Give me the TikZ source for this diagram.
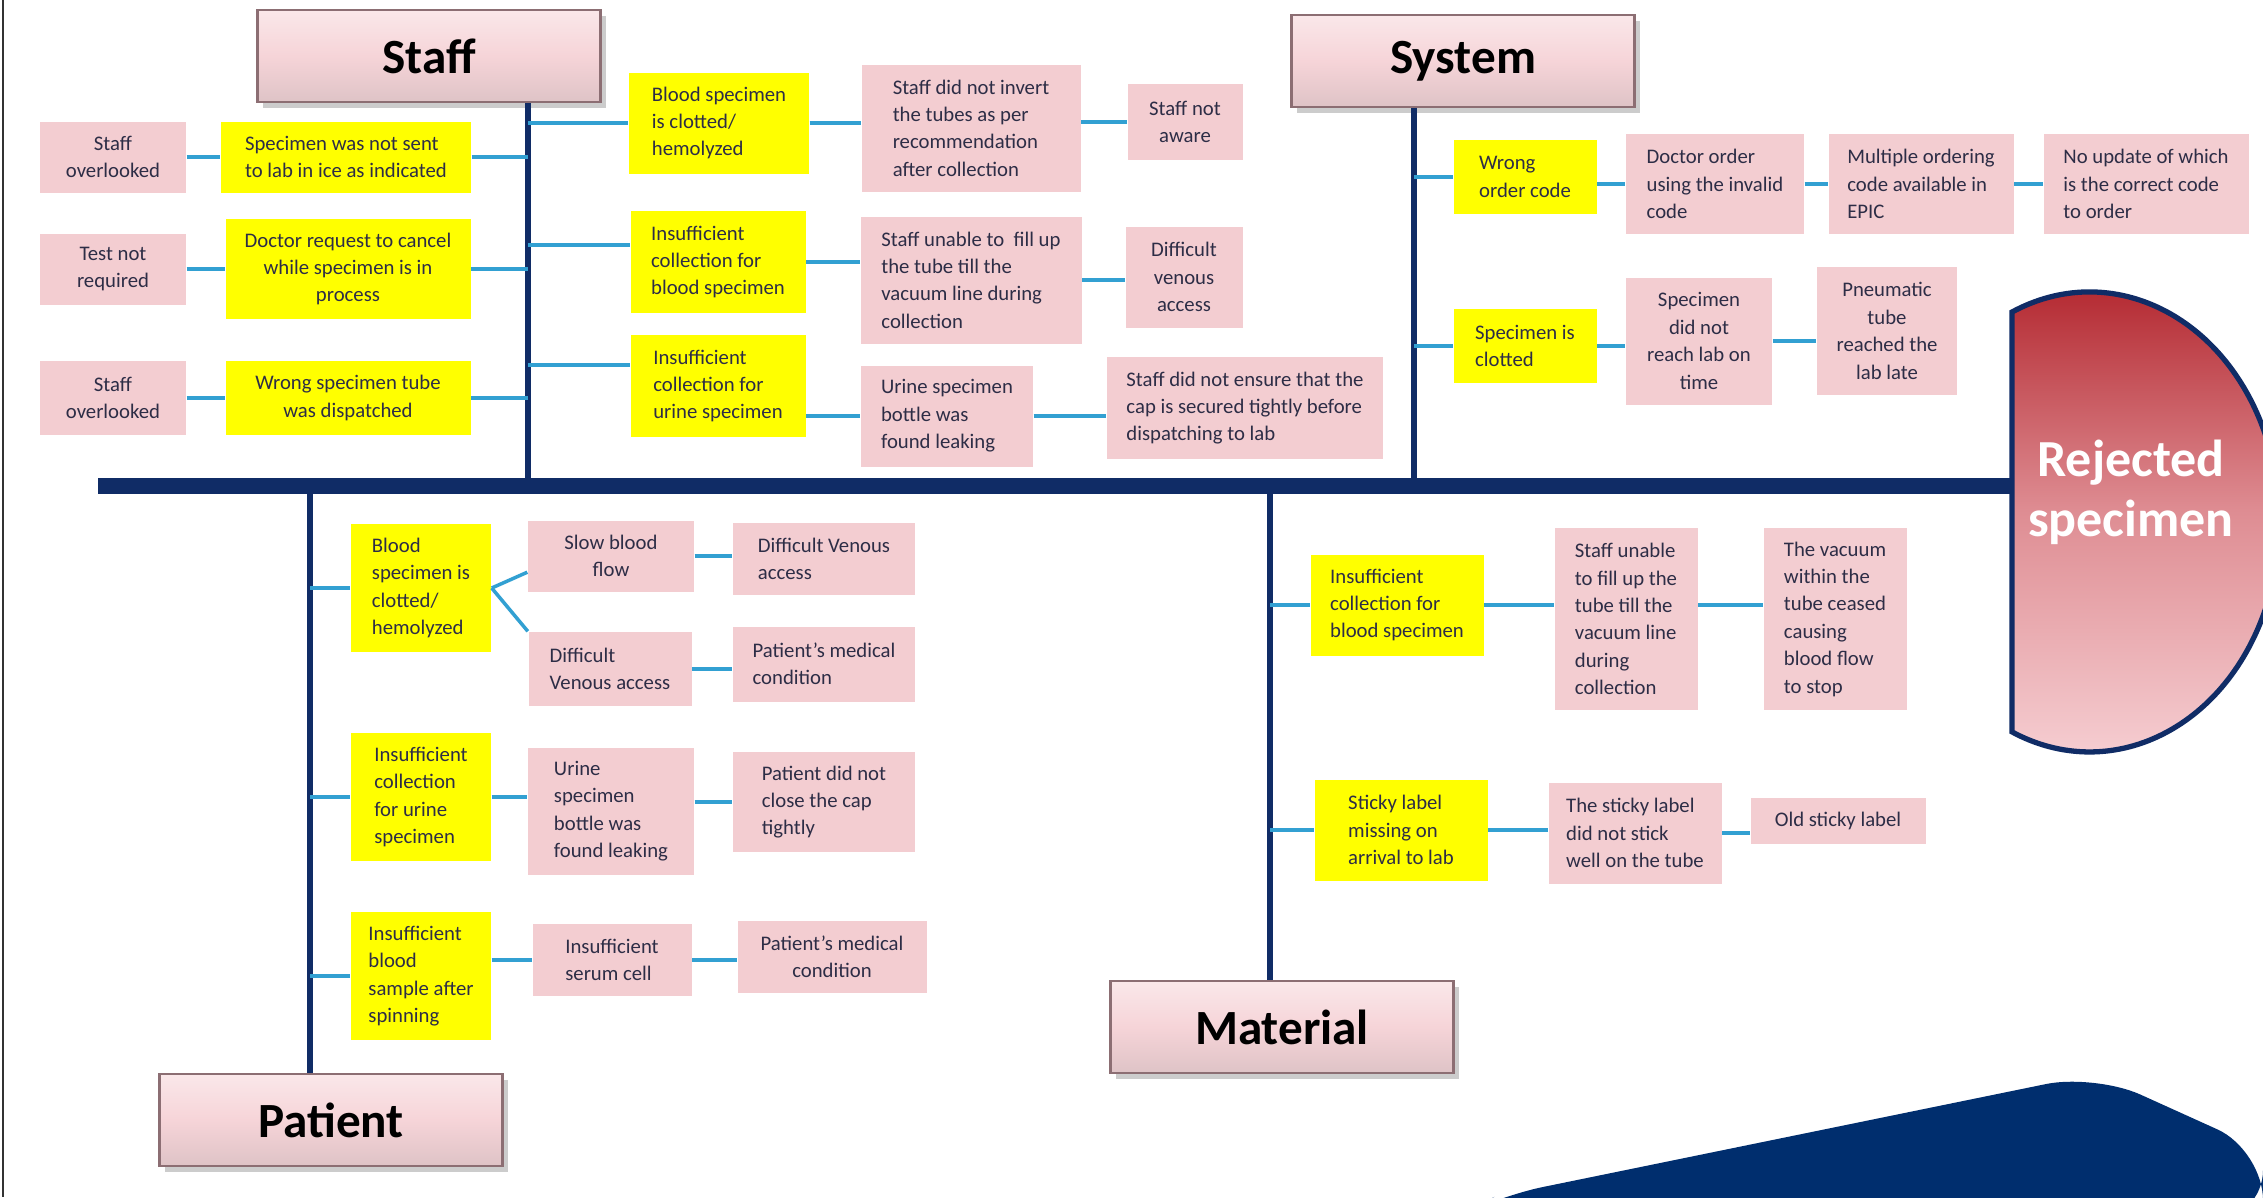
\documentclass[tikz,border=0pt]{standalone}
\usepackage{fontspec}
\setmainfont{Carlito}
\usetikzlibrary{shadows}

\definecolor{bonenavy}{RGB}{16,44,102}
\definecolor{connblue}{RGB}{50,160,210}
\definecolor{whypink}{RGB}{243,205,209}
\definecolor{causeyellow}{RGB}{255,255,0}
\definecolor{hdrpink}{RGB}{246,212,216}
\definecolor{hdredge}{RGB}{140,110,115}
\definecolor{boxtext}{RGB}{45,45,70}
\definecolor{rejtop}{RGB}{175,30,38}
\definecolor{rejmid}{RGB}{222,140,146}
\definecolor{rejbot}{RGB}{246,206,210}
\definecolor{cornernavy}{RGB}{0,46,110}

\tikzset{
  txtbox/.style={text=boxtext, font=\fontsize{5.9}{7.8}\selectfont, inner xsep=0.1cm, inner ysep=0.06cm},
  cause/.style={txtbox, fill=causeyellow},
  why/.style={txtbox, fill=whypink},
  catbox/.style={draw=hdredge, line width=0.7pt, top color=hdrpink!55!white, bottom color=hdrpink!80!gray, middle color=hdrpink,
    minimum width=3.43cm, minimum height=0.92cm, font=\fontsize{14}{16}\selectfont\bfseries,
    drop shadow={opacity=0.4, shadow xshift=0.05cm, shadow yshift=-0.06cm}},
  bone/.style={draw=bonenavy, line width=1.8pt},
  conn/.style={draw=connblue, line width=1pt},
}

\begin{document}
\begin{tikzpicture}

  \fill[white] (0,0) rectangle (22.63,-11.97);
  \clip (0,0) rectangle (22.63,-11.97);
  \draw[line width=0.7pt, black!80] (0.03,0) -- (0.03,-11.97);

  % corner decoration
  \fill[cornernavy, rounded corners=0.5cm] (14.94,-11.97) -- (20.95,-10.74) -- (22.63,-11.50) -- (22.63,-12.2) -- (14.5,-12.2) -- cycle;

  % Staff
  \node[catbox] (staff) at (4.29,-0.56) {Staff};
  \coordinate (stj) at (5.28,-4.86);
  \draw[bone] (staff.south -| stj) -- (stj);

  \node[why, minimum width=1.46cm, minimum height=0.71cm, align=center] (sa1) at (1.13,-1.57) {Staff\\overlooked};
  \node[why, minimum width=1.46cm, minimum height=0.71cm, align=center] (sa2) at (1.13,-2.69) {Test not\\required};
  \node[why, minimum width=1.46cm, minimum height=0.74cm, align=center] (sa3) at (1.13,-3.98) {Staff\\overlooked};
  \node[cause, minimum width=2.50cm, minimum height=0.71cm, align=left] (sb1) at (3.46,-1.57) {Specimen was not sent\\to lab in ice as indicated};
  \node[cause, minimum width=2.45cm, minimum height=1.00cm, align=center] (sb2) at (3.48,-2.69) {Doctor request to cancel\\while specimen is in\\process};
  \node[cause, minimum width=2.45cm, minimum height=0.74cm, align=center] (sb3) at (3.48,-3.98) {Wrong specimen tube\\was dispatched};
  \draw[conn] (sa1) -- (sb1);
  \draw[conn] (sa2) -- (sb2);
  \draw[conn] (sa3) -- (sb3);
  \draw[conn] (sb1) -- (sb1 -| stj);
  \draw[conn] (sb2) -- (sb2 -| stj);
  \draw[conn] (sb3) -- (sb3 -| stj);

  \node[cause, minimum width=1.80cm, minimum height=1.01cm, align=left] (sc1) at (7.19,-1.23) {Blood specimen\\is clotted/\\hemolyzed};
  \node[cause, minimum width=1.75cm, minimum height=1.02cm, align=left] (sc2) at (7.18,-2.62) {Insufficient\\collection for\\blood specimen};
  \node[cause, minimum width=1.75cm, minimum height=1.02cm, align=left] (sc3) at (7.18,-3.86) {Insufficient\\collection for\\urine specimen};
  \node[why, minimum width=2.19cm, minimum height=1.27cm, align=left] (sd1) at (9.71,-1.28) {Staff did not invert\\the tubes as per\\recommendation\\after collection};
  \node[why, minimum width=1.15cm, minimum height=0.76cm, align=center] (se1) at (11.85,-1.22) {Staff not\\aware};
  \node[why, minimum width=2.21cm, minimum height=1.27cm, align=left] (sd2) at (9.71,-2.80) {Staff unable to\ \ fill up\\the tube till the\\vacuum line during\\collection};
  \node[why, minimum width=1.17cm, minimum height=1.01cm, align=center] (se2) at (11.84,-2.77) {Difficult\\venous\\access};
  \node[why, minimum width=1.72cm, minimum height=1.01cm, align=left] (sd3) at (9.47,-4.16) {Urine specimen\\bottle was\\found leaking};
  \node[why, minimum width=2.76cm, minimum height=1.02cm, align=left] (se3) at (12.45,-4.08) {Staff did not ensure that the\\cap is secured tightly before\\dispatching to lab};
  \draw[conn] (sc1 -| stj) -- (sc1);
  \draw[conn] ([yshift=1.7mm]sc2.west -| stj) -- ([yshift=1.7mm]sc2.west);
  \draw[conn] ([yshift=2.1mm]sc3.west -| stj) -- ([yshift=2.1mm]sc3.west);
  \draw[conn] (sc1.east) -- (sc1.east -| sd1.west);
  \draw[conn] (se1.west -| sd1.east) -- (se1.west);
  \draw[conn] (sc2.east) -- (sc2.east -| sd2.west);
  \draw[conn] (sd2.east) -- (sd2.east -| se2.west);
  \draw[conn] (sd3.west -| sc3.east) -- (sd3.west);
  \draw[conn] (sd3.east) -- (sd3.east -| se3.west);

  % System
  \node[catbox] (system) at (14.63,-0.61) {System};
  \coordinate (syj) at (14.14,-4.86);
  \draw[bone] (system.south -| syj) -- (syj);

  \node[cause, minimum width=1.43cm, minimum height=0.74cm, align=left] (ya1) at (15.25,-1.77) {Wrong\\order code};
  \node[why, minimum width=1.78cm, minimum height=1.00cm, align=left] (yb1) at (17.15,-1.84) {Doctor order\\using the invalid\\code};
  \node[why, minimum width=1.85cm, minimum height=1.00cm, align=left] (yc1) at (19.21,-1.84) {Multiple ordering\\code available in\\EPIC};
  \node[why, minimum width=2.05cm, minimum height=1.00cm, align=left] (yd1) at (21.46,-1.84) {No update of which\\is the correct code\\to order};
  \node[cause, minimum width=1.43cm, minimum height=0.74cm, align=left] (ya2) at (15.25,-3.46) {Specimen is\\clotted};
  \node[why, minimum width=1.46cm, minimum height=1.27cm, align=center] (yb2) at (16.99,-3.41) {Specimen\\did not\\reach lab on\\time};
  \node[why, minimum width=1.40cm, minimum height=1.28cm, align=center] (yc2) at (18.87,-3.31) {Pneumatic\\tube\\reached the\\lab late};
  \draw[conn] (ya1 -| syj) -- (ya1);
  \draw[conn] (yb1.west -| ya1.east) -- (yb1.west);
  \draw[conn] (yb1) -- (yc1);
  \draw[conn] (yc1) -- (yd1);
  \draw[conn] (ya2 -| syj) -- (ya2);
  \draw[conn] (ya2.east) -- (ya2.east -| yb2.west);
  \draw[conn] (yb2.east) -- (yb2.east -| yc2.west);

  % Patient
  \node[catbox] (patient) at (3.31,-11.20) {Patient};
  \coordinate (ptj) at (3.10,-4.86);
  \draw[bone] (ptj) -- (patient.north -| ptj);

  \node[cause, minimum width=1.40cm, minimum height=1.28cm, align=left] (pa1) at (4.21,-5.88) {Blood\\specimen is\\clotted/\\hemolyzed};
  \node[why, minimum width=1.66cm, minimum height=0.71cm, align=center] (pb1) at (6.11,-5.56) {Slow blood\\flow};
  \node[why, minimum width=1.63cm, minimum height=0.74cm, align=left] (pb2) at (6.10,-6.69) {Difficult\\Venous access};
  \node[why, minimum width=1.82cm, minimum height=0.72cm, align=left] (pc1) at (8.24,-5.59) {Difficult Venous\\access};
  \node[why, minimum width=1.82cm, minimum height=0.75cm, align=left] (pc2) at (8.24,-6.64) {Patient’s medical\\condition};
  \node[cause, minimum width=1.40cm, minimum height=1.28cm, align=left] (pa2) at (4.21,-7.97) {Insufficient\\collection\\for urine\\specimen};
  \node[why, minimum width=1.66cm, minimum height=1.27cm, align=left] (pb3) at (6.11,-8.11) {Urine\\specimen\\bottle was\\found leaking};
  \node[why, minimum width=1.82cm, minimum height=1.00cm, align=left] (pc3) at (8.24,-8.02) {Patient did not\\close the cap\\tightly};
  \node[cause, minimum width=1.40cm, minimum height=1.28cm, align=left] (pa3) at (4.21,-9.76) {Insufficient\\blood\\sample after\\spinning};
  \node[why, minimum width=1.59cm, minimum height=0.72cm, align=left] (pb4) at (6.12,-9.60) {Insufficient\\serum cell};
  \node[why, minimum width=1.89cm, minimum height=0.72cm, align=center] (pc4) at (8.32,-9.57) {Patient’s medical\\condition};
  \draw[conn] (pa1 -| ptj) -- (pa1);
  \draw[conn] (pa2 -| ptj) -- (pa2);
  \draw[conn] (pa3 -| ptj) -- (pa3);
  \draw[conn] (pa1.east) -- ([yshift=2mm]pb1.south west);
  \draw[conn] (pa1.east) -- (pb2.north west);
  \draw[conn] (pb1.east) -- (pb1.east -| pc1.west);
  \draw[conn] (pb2.east) -- (pb2.east -| pc2.west);
  \draw[conn] (pa2.east) -- (pa2.east -| pb3.west);
  \draw[conn] (pc3.west -| pb3.east) -- (pc3.west);
  \draw[conn] (pb4.west -| pa3.east) -- (pb4.west);
  \draw[conn] (pb4.east) -- (pb4.east -| pc4.west);

  % Material
  \node[catbox] (material) at (12.82,-10.27) {Material};
  \coordinate (mtj) at (12.70,-4.86);
  \draw[bone] (mtj) -- (material.north -| mtj);

  \node[cause, minimum width=1.73cm, minimum height=1.01cm, align=left] (ma1) at (13.97,-6.05) {Insufficient\\collection for\\blood specimen};
  \node[why, minimum width=1.43cm, minimum height=1.82cm, align=left] (mb1) at (16.26,-6.19) {Staff unable\\to fill up the\\tube till the\\vacuum line\\during\\collection};
  \node[why, minimum width=1.43cm, minimum height=1.82cm, align=left] (mc1) at (18.35,-6.19) {The vacuum\\within the\\tube ceased\\causing\\blood flow\\to stop};
  \node[cause, minimum width=1.73cm, minimum height=1.01cm, align=left] (ma2) at (14.01,-8.30) {Sticky label\\missing on\\arrival to lab};
  \node[why, minimum width=1.73cm, minimum height=1.01cm, align=left] (mb2) at (16.35,-8.33) {The sticky label\\did not stick\\well on the tube};
  \node[why, minimum width=1.75cm, minimum height=0.46cm, align=left] (mc2) at (18.38,-8.21) {Old sticky label};
  \draw[conn] (ma1 -| mtj) -- (ma1);
  \draw[conn] (ma1.east) -- (ma1.east -| mb1.west);
  \draw[conn] (mb1.east |- ma1) -- (mc1.west |- ma1);
  \draw[conn] (ma2 -| mtj) -- (ma2);
  \draw[conn] (ma2.east) -- (ma2.east -| mb2.west);
  \draw[conn] (mb2.east) -- (mb2.east -| mc2.west);

  % spine and head
  \coordinate (tail) at (0.98,-4.86);
  \coordinate (head) at (20.13,-4.86);
  \draw[draw=bonenavy, line width=4.8pt] (tail) -- (head);
  \shadedraw[top color=rejtop, bottom color=rejbot, middle color=rejmid, draw=bonenavy, line width=1.5pt]
    (20.12,-3.12) arc[start angle=114.1, end angle=-114.1, x radius=1.90, y radius=2.30] -- cycle;
  \node[text=white, font=\fontsize{14.8}{17}\selectfont\bfseries, align=center] (rej) at (21.31,-4.92) {Rejected\\specimen};

\end{tikzpicture}
\end{document}
